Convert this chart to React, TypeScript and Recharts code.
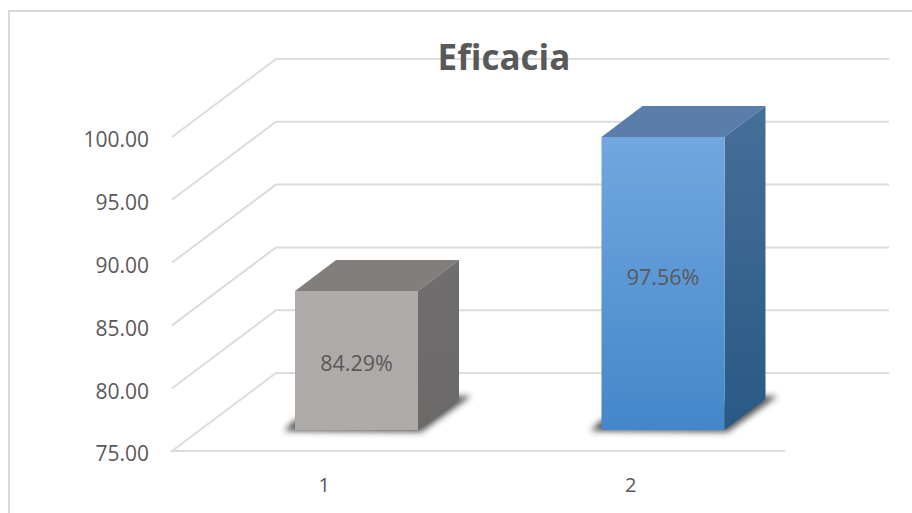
import { ComposedChart, Bar, Line, XAxis, YAxis, CartesianGrid, LabelList } from "recharts";

const categories = ["1", "2"];
const efficacy = [84.29, 97.56];
const yTicks = [75, 80, 85, 90, 95, 100];

const data = categories.map((name, i) => ({ name, efficacy: efficacy[i] }));

const FONT = "'Open Sans', sans-serif";
const TEXT = "#595959";
const GRID = "#dcdcdc";
const WALL_DX = 104;
const WALL_DY = 78;
const BAR_DX = 41;
const BAR_DY = 31;
const BAR_SHIFT_X = 31;
const BAR_LIFT = 21;

const faces = [
  { front: "url(#frontGray)", top: "#827e7c", side: "url(#sideGray)" },
  { front: "url(#frontBlue)", top: "#5a7ea9", side: "url(#sideBlue)" },
];

const GridLine = (props: any) => {
  const { x1, x2, y1 } = props;
  const isFloor = y1 > 445;
  const path = isFloor
    ? `M${x2},${y1} L${x1},${y1} L${x1 + WALL_DX},${y1 - WALL_DY} L${x2 + WALL_DX},${y1 - WALL_DY}`
    : `M${x1},${y1} L${x1 + WALL_DX},${y1 - WALL_DY} L${x2 + WALL_DX},${y1 - WALL_DY}`;
  return <path d={path} fill="none" stroke={GRID} strokeWidth={2} />;
};

const Box = (props: any) => {
  const { x, y, width, height, index } = props;
  const left = x + BAR_SHIFT_X;
  const right = left + width;
  const bottom = y + height - BAR_LIFT;
  const c = faces[index];
  const shadow = `${left - 11},${bottom + 1} ${left},${bottom - 10} ${right + BAR_DX},${bottom - BAR_DY - 3} ${right + BAR_DX + 12},${bottom - BAR_DY - 3} ${right + 3},${bottom + 2}`;
  return (
    <g>
      <polygon points={shadow} fill="#404040" opacity={0.9} filter="url(#shadowBlur)" />
      <polygon
        points={`${left},${y} ${left + BAR_DX},${y - BAR_DY} ${right + BAR_DX},${y - BAR_DY} ${right},${y}`}
        fill={c.top}
      />
      <polygon
        points={`${right},${y} ${right + BAR_DX},${y - BAR_DY} ${right + BAR_DX},${bottom - BAR_DY} ${right},${bottom}`}
        fill={c.side}
      />
      <rect x={left} y={y} width={width} height={bottom - y} fill={c.front} />
    </g>
  );
};

const BoxLabel = (props: any) => {
  const { x, y, width, height, value } = props;
  return (
    <text
      x={x + BAR_SHIFT_X + width / 2}
      y={y + height * 0.445}
      textAnchor="middle"
      dominantBaseline="central"
      fontFamily={FONT}
      fontSize={21.5}
      fill={TEXT}
    >
      {value.toFixed(2)}%
    </text>
  );
};

export default function App() {
  return (
    <div style={{ position: "absolute", left: 0, top: 0, width: 912, height: 513, background: "#fff", overflow: "hidden" }}>
      <div style={{ position: "absolute", left: 8, top: 10, width: 920, height: 520, border: "2px solid #d9d9d9" }} />
      <ComposedChart
        width={912}
        height={513}
        data={data}
        barSize={123}
        margin={{ top: 137, right: 127, left: 112, bottom: 22 }}
        style={{ position: "absolute", left: 0, top: 0 }}
      >
        <defs>
          <linearGradient id="frontGray" x1="0" y1="0" x2="0" y2="1">
            <stop offset="0" stopColor="#afabaa" />
            <stop offset="1" stopColor="#adaaa8" />
          </linearGradient>
          <linearGradient id="sideGray" x1="0" y1="0" x2="0" y2="1">
            <stop offset="0" stopColor="#6f6d6d" />
            <stop offset="1" stopColor="#6c6a69" />
          </linearGradient>
          <linearGradient id="frontBlue" x1="0" y1="0" x2="0" y2="1">
            <stop offset="0" stopColor="#72a7e0" />
            <stop offset="1" stopColor="#4387ca" />
          </linearGradient>
          <linearGradient id="sideBlue" x1="0" y1="0" x2="0" y2="1">
            <stop offset="0" stopColor="#466f98" />
            <stop offset="1" stopColor="#295985" />
          </linearGradient>
          <filter id="shadowBlur" x="-20%" y="-50%" width="140%" height="200%">
            <feGaussianBlur stdDeviation="3" />
          </filter>
        </defs>
        <CartesianGrid vertical={false} horizontal={GridLine} />
        <XAxis
          dataKey="name"
          height={40}
          axisLine={false}
          tickLine={false}
          tickMargin={21}
          tick={{ fontFamily: FONT, fontSize: 20, fill: TEXT, dx: -1 }}
        />
        <YAxis
          width={60}
          domain={[75, 100]}
          ticks={yTicks}
          axisLine={false}
          tickLine={false}
          tickMargin={17}
          tickFormatter={(v: number) => v.toFixed(2)}
          tick={{ fontFamily: FONT, fontSize: 21, fill: TEXT, dy: 3 }}
        />
        {/* the boxes stand further back than the front axis, so they get their own scale */}
        <YAxis yAxisId="boxes" hide domain={[70.5, 97.56]} />
        {/* invisible, only here so the printed axis has a series and draws its ticks */}
        <Line dataKey="efficacy" stroke="none" dot={false} activeDot={false} legendType="none" isAnimationActive={false} />
        <Bar yAxisId="boxes" dataKey="efficacy" shape={Box} isAnimationActive={false}>
          <LabelList dataKey="efficacy" content={BoxLabel} />
        </Bar>
      </ComposedChart>
      <div
        style={{
          position: "absolute",
          left: 404,
          width: 200,
          top: 33,
          textAlign: "center",
          fontFamily: FONT,
          fontWeight: 700,
          fontSize: 35,
          lineHeight: "48px",
          color: TEXT,
        }}
      >
        Eficacia
      </div>
    </div>
  );
}
